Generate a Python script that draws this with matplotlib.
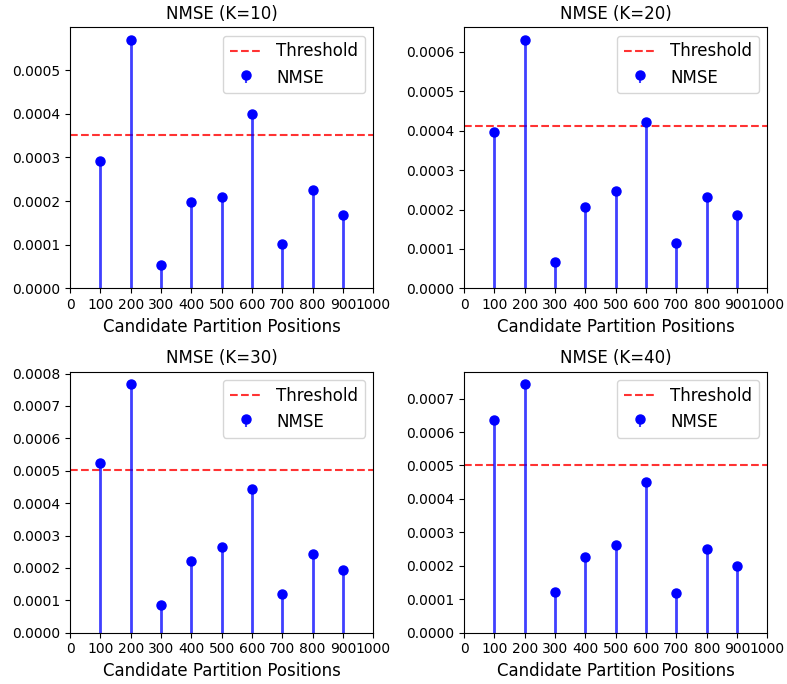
"""
NMSE of each candidate partition position for several K, with threshold lines.
"""
import numpy as np
from matplotlib import pyplot as plt

positions = [100, 200, 300, 400, 500, 600, 700, 800, 900]

nmse_k10 = [0.000293, 0.000570, 0.000054, 0.000197, 0.000209, 0.000399, 0.000102, 0.000226, 0.000167]
nmse_k20 = [0.000396, 0.000631, 0.000067, 0.000207, 0.000246, 0.000422, 0.000114, 0.000231, 0.000185]
nmse_k30 = [0.000525, 0.000767, 0.000087, 0.000222, 0.000264, 0.000443, 0.000118, 0.000244, 0.000193]
nmse_k40 = [0.000635, 0.000743, 0.000122, 0.000226, 0.000263, 0.000450, 0.000118, 0.000251, 0.000200]

k_values = [10, 20, 30, 40]
thresholds = [0.000352, 0.000412, 0.000502, 0.000502]
all_nmse = [nmse_k10, nmse_k20, nmse_k30, nmse_k40]

fig, axes = plt.subplots(2, 2, figsize=(7.87, 6.84), dpi=100)

for axis, k, threshold, nmse in zip(axes.flat, k_values, thresholds, all_nmse):
    axis.axhline(threshold, color="red", linestyle="--", alpha=0.8, label="Threshold")
    markers, stems, base = axis.stem(positions, nmse, linefmt="b-", markerfmt="bo", basefmt=" ", label="NMSE")
    markers.set_markersize(6.5)
    stems.set_alpha(0.75)
    stems.set_linewidth(2)
    axis.set_xlim(0, 1000)
    axis.set_ylim(0, max(nmse) * 1.05)
    axis.set_xticks(np.arange(0, 1001, 100))
    axis.yaxis.set_major_formatter(plt.FormatStrFormatter("%.4f"))
    axis.set_title("NMSE (K=%d)" % k, fontsize=12)
    axis.set_xlabel("Candidate Partition Positions", fontsize=12)
    axis.legend(loc="upper right", fontsize=12)

plt.subplots_adjust(left=0.089, right=0.975, top=0.96, bottom=0.075, wspace=0.3, hspace=0.32)
plt.savefig("out.png", dpi=100)
